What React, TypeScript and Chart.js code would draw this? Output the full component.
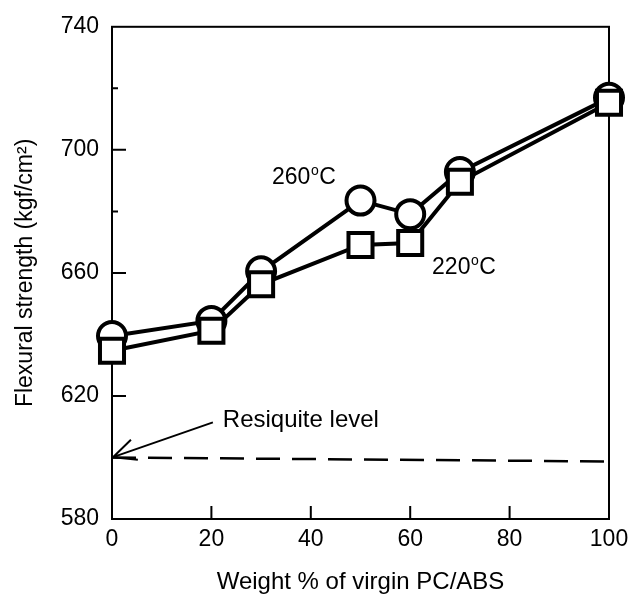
import React, { useEffect, useRef } from "react";
import { Chart, registerables } from "chart.js";

Chart.register(...registerables);

// ---- data ----
const weightPct = [0, 20, 30, 50, 60, 70, 100];
const strength260C = [639.5, 644.4, 660.5, 683.5, 679.1, 692.8, 716.9];
const strength220C = [634.7, 641.2, 656.3, 669.1, 669.7, 689.6, 715.3];
const levelX = [0, 100];
const levelY = [600, 598.7];
const xTickMarks = [20, 40, 60, 80];
const yTickMarks = [600, 620, 640, 660, 680, 700, 720];
const yLabelValues = [580, 620, 660, 700, 740];
const xTitle = "Weight % of virgin PC/ABS";
const yTitle = "Flexural strength (kgf/cm\u00B2)";
const label260 = { num: "260", x: 32.2, y: 689.0 };
const label220 = { num: "220", x: 64.4, y: 659.6 };
const levelLabel = { text: "Resiquite level", x: 22.3, y: 609.8 };
const arrowTail = { x: 20.3, y: 611.4 };
const arrowTip = { x: 0.2, y: 600.1 };

const FONT = '"Liberation Sans", Arial, Helvetica, sans-serif';

const toPts = (xs: number[], ys: number[]) => xs.map((x, i) => ({ x, y: ys[i] }));

const framePlugin = {
  id: "framePlugin",
  beforeDatasetsDraw(chart: any) {
    const { ctx, chartArea: a, scales } = chart;
    ctx.save();
    ctx.strokeStyle = "#000";
    ctx.lineWidth = 2;
    ctx.strokeRect(a.left, a.top, a.right - a.left, a.bottom - a.top);
    ctx.beginPath();
    for (const xv of xTickMarks) {
      const px = scales.x.getPixelForValue(xv);
      ctx.moveTo(px, a.bottom);
      ctx.lineTo(px, a.bottom - 13);
    }
    for (const yv of yTickMarks) {
      const py = scales.y.getPixelForValue(yv);
      const len = yLabelValues.includes(yv) ? 14 : 6;
      ctx.moveTo(a.left, py);
      ctx.lineTo(a.left + len, py);
    }
    ctx.stroke();
    ctx.restore();
  },
  afterDatasetsDraw(chart: any) {
    const { ctx, scales } = chart;
    const X = (v: number) => scales.x.getPixelForValue(v);
    const Y = (v: number) => scales.y.getPixelForValue(v);
    ctx.save();
    ctx.fillStyle = "#000";
    ctx.textAlign = "left";
    ctx.textBaseline = "alphabetic";
    const drawTemp = (lab: { num: string; x: number; y: number }) => {
      const x0 = X(lab.x);
      const y0 = Y(lab.y);
      ctx.font = `23px ${FONT}`;
      ctx.fillText(lab.num, x0, y0);
      const w1 = ctx.measureText(lab.num).width;
      ctx.font = `14px ${FONT}`;
      ctx.fillText("o", x0 + w1 + 0.5, y0 - 9);
      const w2 = ctx.measureText("o").width;
      ctx.font = `23px ${FONT}`;
      ctx.fillText("C", x0 + w1 + w2 + 1, y0);
    };
    drawTemp(label260);
    drawTemp(label220);
    ctx.font = `24px ${FONT}`;
    ctx.fillText(levelLabel.text, X(levelLabel.x), Y(levelLabel.y));

    // arrow
    const tx = X(arrowTail.x), ty = Y(arrowTail.y);
    const hx = X(arrowTip.x), hy = Y(arrowTip.y);
    const ang = Math.atan2(ty - hy, tx - hx);
    const barb = 25;
    const spread = (25 * Math.PI) / 180;
    ctx.strokeStyle = "#000";
    ctx.lineWidth = 2;
    ctx.beginPath();
    ctx.moveTo(tx, ty);
    ctx.lineTo(hx, hy);
    ctx.moveTo(hx + barb * Math.cos(ang - spread), hy + barb * Math.sin(ang - spread));
    ctx.lineTo(hx, hy);
    ctx.lineTo(hx + barb * Math.cos(ang + spread), hy + barb * Math.sin(ang + spread));
    ctx.stroke();
    ctx.restore();
  },
};

export default function App() {
  const ref = useRef<HTMLCanvasElement | null>(null);

  useEffect(() => {
    if (!ref.current) return;
    const chart = new Chart(ref.current, {
      type: "scatter",
      data: {
        datasets: [
          {
            label: "260°C",
            data: toPts(weightPct, strength260C),
            showLine: true,
            borderColor: "#000",
            borderWidth: 4,
            backgroundColor: "#fff",
            pointStyle: "circle",
            pointRadius: 14,
            pointBorderWidth: 4,
            pointBackgroundColor: "#fff",
            pointBorderColor: "#000",
            clip: false,
            order: 1,
          },
          {
            label: "220°C",
            data: toPts(weightPct, strength220C),
            showLine: true,
            borderColor: "#000",
            borderWidth: 4,
            backgroundColor: "#fff",
            pointStyle: "rect",
            pointRadius: 17,
            pointBorderWidth: 4,
            pointBackgroundColor: "#fff",
            pointBorderColor: "#000",
            clip: false,
            order: 0,
          },
          {
            label: "Resiquite level",
            data: toPts(levelX, levelY),
            showLine: true,
            borderColor: "#000",
            borderWidth: 2.5,
            borderDash: [24, 12],
            pointRadius: 0,
            clip: false,
            order: 2,
          },
        ] as any,
      },
      options: {
        responsive: false,
        maintainAspectRatio: false,
        animation: false,
        layout: { padding: { left: 0, right: 34, top: 24, bottom: 0 } },
        plugins: { legend: { display: false }, tooltip: { enabled: false } },
        scales: {
          x: {
            type: "linear",
            min: 0,
            max: 100,
            grid: { display: false, drawTicks: false },
            border: { display: false },
            ticks: {
              stepSize: 20,
              color: "#000",
              font: { family: FONT, size: 23 },
              padding: 7,
              maxRotation: 0,
            },
            title: {
              display: true,
              text: xTitle,
              color: "#000",
              font: { family: FONT, size: 24 },
              padding: { top: 0, bottom: 0 },
            },
            afterFit: (s: any) => {
              s.height = 78;
            },
          },
          y: {
            type: "linear",
            min: 580,
            max: 740,
            grid: { display: false, drawTicks: false },
            border: { display: false },
            ticks: {
              stepSize: 40,
              color: "#000",
              font: { family: FONT, size: 23 },
              padding: 13,
            },
            title: {
              display: true,
              text: yTitle,
              color: "#000",
              font: { family: FONT, size: 23 },
              padding: { top: 12, bottom: 0 },
            },
            afterFit: (s: any) => {
              s.width = 112;
            },
          },
        },
      } as any,
      plugins: [framePlugin],
    });
    return () => chart.destroy();
  }, []);

  return (
    <div style={{ position: "absolute", left: 0, top: 0, width: 643, height: 597, background: "#fff" }}>
      <canvas ref={ref} width={643} height={597} style={{ display: "block" }} />
    </div>
  );
}
